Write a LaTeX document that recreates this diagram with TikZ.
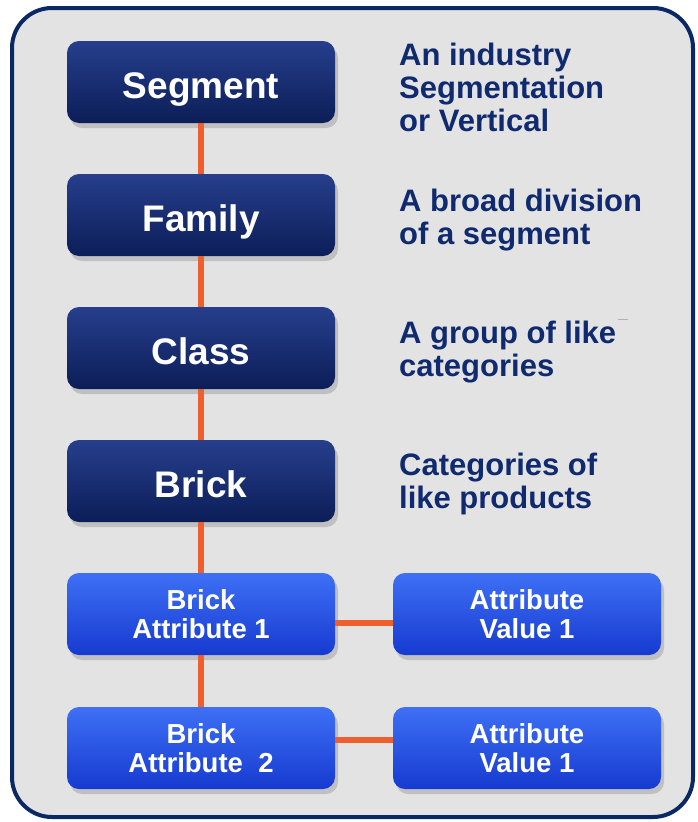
\documentclass[tikz,border=0pt]{standalone}
\usepackage{fontspec}
\setmainfont{Liberation Sans}
\usetikzlibrary{shadows}
\definecolor{framenavy}{RGB}{10,40,100}
\definecolor{panelgray}{RGB}{227,227,227}
\definecolor{darktop}{RGB}{38,62,140}
\definecolor{darkbot}{RGB}{12,30,88}
\definecolor{lighttop}{RGB}{62,112,245}
\definecolor{lightbot}{RGB}{22,58,208}
\definecolor{linkorange}{RGB}{238,95,45}
\definecolor{notenavy}{RGB}{15,42,110}
\tikzset{
  boxbase/.style={rounded corners=12pt, minimum width=268pt, minimum height=82pt,
    text=white, drop shadow={shadow xshift=3pt, shadow yshift=-5pt, opacity=.35}},
  levelbox/.style={boxbase, top color=darktop, bottom color=darkbot,
    text height=33pt, text depth=0pt,
    font=\fontsize{37}{40}\selectfont\bfseries},
  attrbox/.style={boxbase, top color=lighttop, bottom color=lightbot, align=center,
    font=\fontsize{27.5}{29}\selectfont\bfseries},
  note/.style={anchor=west, align=left, inner sep=0pt, text=notenavy,
    font=\fontsize{31}{33}\selectfont\bfseries},
  link/.style={linkorange, line width=6pt}
}
\begin{document}
\begin{tikzpicture}[x=1pt,y=-1pt]
  \useasboundingbox (0,0) rectangle (697,822);
  \draw[framenavy, line width=4pt, fill=panelgray, rounded corners=40pt]
    (12,8) rectangle (693,817);

  % hierarchy boxes
  \node[levelbox] (segment) at (201,82) {Segment};
  \node[levelbox] (family) at (201,215) {Family};
  \node[levelbox] (class) at (201,348) {Class};
  \node[levelbox] (brick) at (201,481) {Brick};
  \node[attrbox] (battr1) at (201,614) {Brick\\Attribute 1};
  \node[attrbox] (battr2) at (201,748) {Brick\\Attribute\ \ 2};
  \node[attrbox] (aval1) at (527,614) {Attribute\\Value 1};
  \node[attrbox] (aval2) at (527,748) {Attribute\\Value 1};

  % links
  \draw[link] (segment.south) -- (family.north);
  \draw[link] (family.south) -- (class.north);
  \draw[link] (class.south) -- (brick.north);
  \draw[link] (brick.south) -- (battr1.north);
  \draw[link] (battr1.south) -- (battr2.north);
  \draw[link] ([yshift=-9pt]battr1.east) -- ([yshift=-9pt]aval1.west);
  \draw[link] ([yshift=8pt]battr2.east) -- ([yshift=8pt]aval2.west);

  % notes
  \node[note] (segnote) at (399,87) {An industry\\Segmentation\\or Vertical};
  \node[note] (famnote) at (399,220) {A broad division\\of a segment};
  \node[note] (classnote) at (399,352) {A group of like\\categories};
  \node[note] (bricknote) at (399,484) {Categories of\\like products};
  \draw[gray!60, line width=1pt] (618,319) -- (628,319);
\end{tikzpicture}
\end{document}
